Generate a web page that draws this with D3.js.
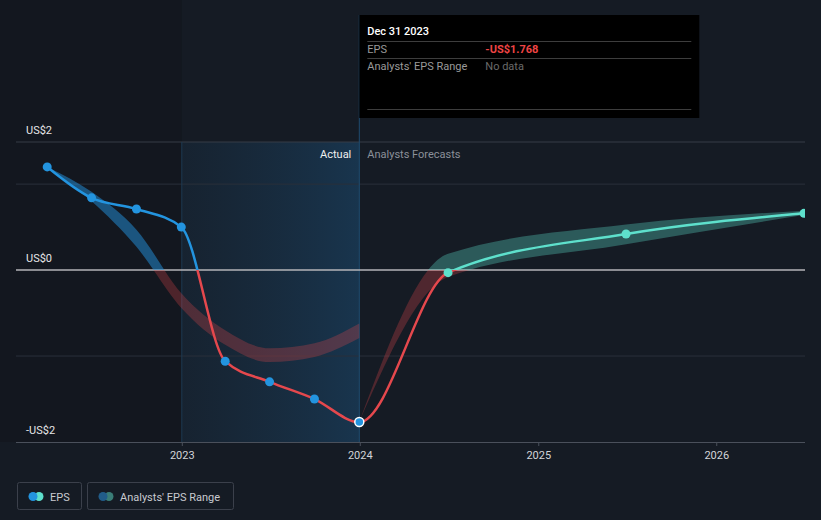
<!DOCTYPE html>
<html>
<head>
<meta charset="utf-8">
<script src="https://cdn.jsdelivr.net/npm/d3@7"></script>
<style>
  html, body { margin: 0; padding: 0; background: #151b24; }
  svg { display: block; font-family: Roboto, "Noto Sans", sans-serif; }
</style>
</head>
<body>
<svg id="chart" width="821" height="520"></svg>
<script>
// ---------- data ----------
const actualDates = ["2022-03-31", "2022-06-30", "2022-09-30", "2022-12-31", "2023-03-31", "2023-06-30", "2023-09-30", "2023-12-31"];
const actualEPS = [1.20, 0.84, 0.71, 0.50, -1.06, -1.30, -1.50, -1.768];

const forecastDates = ["2024-06-30", "2025-06-30", "2026-06-30"];
const forecastEPS = [-0.03, 0.42, 0.66];

const pastRangeDates = ["2022-03-31", "2022-06-30", "2022-09-30", "2022-12-31", "2023-03-31", "2023-06-30", "2023-09-30", "2023-12-31"];
const pastRangeLow = [1.20, 0.80, 0.27, -0.44, -0.87, -1.07, -1.01, -0.79];
const pastRangeHigh = [1.20, 0.91, 0.47, -0.27, -0.70, -0.91, -0.85, -0.62];

const forecastRangeDates = ["2023-12-31", "2024-06-30", "2025-06-30", "2026-06-30"];
const forecastRangeLow = [-1.768, -0.08, 0.30, 0.64];
const forecastRangeHigh = [-1.768, 0.19, 0.53, 0.69];

const xDomain = ["2022-01-26", "2026-07-02"];
const xTickDates = ["2023-01-01", "2024-01-01", "2025-01-01", "2026-01-01"];
const xTickLabels = ["2023", "2024", "2025", "2026"];
const yDomain = [-2, 1.49];
const yGridValues = [1, -1];
const yLabelValues = [1.49, 0, -2];
const yLabelTexts = ["US$2", "US$0", "-US$2"];
const dividerDate = "2023-12-31";
const actualStartDate = "2023-01-01";

const tooltipDate = "Dec 31 2023";
const tooltipRows = [["EPS", "-US$1.768"], ["Analysts' EPS Range", "No data"]];
const legendItems = ["EPS", "Analysts' EPS Range"];

// ---------- setup ----------
const parse = d3.timeParse("%Y-%m-%d");
const W = 821, H = 520;
const plot = { left: 16, right: 805, top: 142, bottom: 442 };
const C = {
  blue: "#2394df", red: "#e5484d", teal: "#5ee0cc",
  grid: "#2a303a", zero: "#b4b4b8", axis: "#4a505b"
};

const x = d3.scaleTime().domain(xDomain.map(parse)).range([plot.left, plot.right]);
const y = d3.scaleLinear().domain(yDomain).range([plot.bottom, plot.top]);

const svg = d3.select("#chart");
const defs = svg.append("defs");

const x0 = x(parse(dividerDate));
const xA = x(parse(actualStartDate));
const yZ = y(0);

// gradient for actual region
const g1 = defs.append("linearGradient").attr("id", "actGrad").attr("x1", "0").attr("x2", "1").attr("y1", "0").attr("y2", "0");
g1.append("stop").attr("offset", "0%").attr("stop-color", "#1b3a55").attr("stop-opacity", 0.25);
g1.append("stop").attr("offset", "100%").attr("stop-color", "#1b4a70").attr("stop-opacity", 0.55);

// clip paths
function clip(id, x1, y1, x2, y2) {
  defs.append("clipPath").attr("id", id).append("rect")
    .attr("x", x1).attr("y", y1).attr("width", x2 - x1).attr("height", y2 - y1);
}
clip("plotClip", plot.left, 0, plot.right, H);
clip("abovePast", plot.left, 0, x0, yZ);
clip("aboveFut", x0, 0, plot.right, yZ);
clip("below", plot.left, yZ, plot.right, H);

// darker past region
svg.append("rect").attr("x", 0).attr("y", 0).attr("width", xA).attr("height", plot.bottom)
  .attr("fill", "#12161d").attr("opacity", 0.6);

// actual shading
svg.append("rect").attr("x", xA).attr("y", plot.top).attr("width", x0 - xA).attr("height", plot.bottom - plot.top)
  .attr("fill", "url(#actGrad)");

// gridlines
svg.append("line").attr("x1", plot.left).attr("x2", plot.right).attr("y1", y(yDomain[1])).attr("y2", y(yDomain[1]))
  .attr("stroke", "#363c47").attr("stroke-width", 1);
svg.selectAll("line.grid").data(yGridValues).join("line").attr("class", "grid")
  .attr("x1", plot.left).attr("x2", plot.right).attr("y1", d => y(d)).attr("y2", d => y(d))
  .attr("stroke", C.grid).attr("stroke-width", 1);

// vertical lines
svg.append("line").attr("x1", xA).attr("x2", xA).attr("y1", plot.top).attr("y2", plot.bottom)
  .attr("stroke", "#1d3a52").attr("stroke-width", 1);
svg.append("line").attr("x1", x0).attr("x2", x0).attr("y1", 15).attr("y2", plot.bottom)
  .attr("stroke", "#1f4c70").attr("stroke-width", 1);

// x axis
const xAxis = svg.append("g").attr("transform", `translate(0,${plot.bottom})`)
  .call(d3.axisBottom(x).tickValues(xTickDates.map(parse)).tickFormat((d, i) => xTickLabels[i]).tickSize(4).tickPadding(5));
xAxis.select(".domain").attr("stroke", C.axis).attr("d", `M${plot.left},0.5H${plot.right}`);
xAxis.selectAll(".tick line").attr("stroke", C.axis);
xAxis.selectAll(".tick text").attr("fill", "#d2d4d8").attr("font-size", 11).attr("font-family", "Roboto, sans-serif");

// zero line
svg.append("line").attr("x1", plot.left).attr("x2", plot.right).attr("y1", yZ).attr("y2", yZ)
  .attr("stroke", C.zero).attr("stroke-width", 1.5);

// y labels
svg.selectAll("text.ylab").data(yLabelValues).join("text").attr("class", "ylab")
  .attr("x", 26).attr("y", d => y(d) - 8).attr("fill", "#e6e6e8").attr("font-size", 11)
  .text((d, i) => yLabelTexts[i]);

// Actual / Forecast labels
svg.append("text").attr("x", x0 - 8).attr("y", 158).attr("text-anchor", "end")
  .attr("fill", "#f0f0f0").attr("font-size", 11).text("Actual");
svg.append("text").attr("x", x0 + 8).attr("y", 158)
  .attr("fill", "#8b9099").attr("font-size", 11).text("Analysts Forecasts");

// ---------- bands ----------
const pastBand = pastRangeDates.map((d, i) => ({ d: parse(d), lo: pastRangeLow[i], hi: pastRangeHigh[i] }));
const futBand = forecastRangeDates.map((d, i) => ({ d: parse(d), lo: forecastRangeLow[i], hi: forecastRangeHigh[i] }));
const area = d3.area().x(d => x(d.d)).y0(d => y(d.lo)).y1(d => y(d.hi)).curve(d3.curveMonotoneX);

const plotG = svg.append("g").attr("clip-path", "url(#plotClip)");

function drawBand(data, aboveClip, aboveColor, aboveOp) {
  plotG.append("g").attr("clip-path", `url(#${aboveClip})`).append("path")
    .attr("d", area(data)).attr("fill", aboveColor).attr("fill-opacity", aboveOp);
  plotG.append("g").attr("clip-path", "url(#below)").append("path")
    .attr("d", area(data)).attr("fill", C.red).attr("fill-opacity", 0.28);
}
drawBand(pastBand, "abovePast", C.blue, 0.5);
drawBand(futBand, "aboveFut", C.teal, 0.32);

// ---------- EPS line ----------
const actual = actualDates.map((d, i) => ({ d: parse(d), v: actualEPS[i] }));
const fut = forecastDates.map((d, i) => ({ d: parse(d), v: forecastEPS[i] }));
const all = actual.concat(fut);
const line = d3.line().x(d => x(d.d)).y(d => y(d.v)).curve(d3.curveMonotoneX);

[["abovePast", C.blue], ["aboveFut", C.teal], ["below", C.red]].forEach(([cp, col]) => {
  plotG.append("g").attr("clip-path", `url(#${cp})`).append("path")
    .attr("d", line(all)).attr("fill", "none").attr("stroke", col).attr("stroke-width", 2.5);
});

// dots
plotG.selectAll("circle.act").data(actual.slice(0, -1)).join("circle").attr("class", "act")
  .attr("cx", d => x(d.d)).attr("cy", d => y(d.v)).attr("r", 4.5).attr("fill", C.blue);
plotG.selectAll("circle.fut").data(fut).join("circle").attr("class", "fut")
  .attr("cx", d => x(d.d)).attr("cy", d => y(d.v)).attr("r", 4.5).attr("fill", C.teal);
const last = actual[actual.length - 1];
plotG.append("circle").attr("cx", x(last.d)).attr("cy", y(last.v)).attr("r", 4.5)
  .attr("fill", C.blue).attr("stroke", "#ffffff").attr("stroke-width", 1.5);

// ---------- tooltip ----------
const tt = svg.append("g").attr("transform", `translate(${x0},15)`);
tt.append("rect").attr("width", 340).attr("height", 103).attr("fill", "#000000");
tt.append("text").attr("x", 8).attr("y", 20).attr("fill", "#ffffff").attr("font-size", 11).attr("font-weight", 500).text(tooltipDate);
[26, 43, 94].forEach(v => tt.append("line").attr("x1", 8).attr("x2", 332).attr("y1", v + 0.5).attr("y2", v + 0.5).attr("stroke", "#3d3d3d"));
tooltipRows.forEach((r, i) => {
  tt.append("text").attr("x", 8).attr("y", 38 + i * 17).attr("fill", "#9a9a9a").attr("font-size", 11).text(r[0]);
  tt.append("text").attr("x", 126).attr("y", 38 + i * 17)
    .attr("fill", i === 0 ? "#ef4444" : "#6a6a6a").attr("font-size", 11).attr("font-weight", i === 0 ? 700 : 400).text(r[1]);
});

// ---------- legend ----------
const legendDots = [[C.blue, C.teal], ["#215c89", "#3a7d77"]];
const legendX = [17, 87], legendW = [64, 146];
legendItems.forEach((name, i) => {
  const g = svg.append("g").attr("transform", `translate(${legendX[i]},482)`);
  g.append("rect").attr("x", 0.5).attr("y", 0.5).attr("width", legendW[i]).attr("height", 27).attr("rx", 2)
    .attr("fill", "none").attr("stroke", "#3b404b");
  g.append("circle").attr("cx", 22).attr("cy", 14.5).attr("r", 4.5).attr("fill", legendDots[i][1]);
  g.append("circle").attr("cx", 16).attr("cy", 14.5).attr("r", 4.5).attr("fill", legendDots[i][0]);
  g.append("text").attr("x", 33).attr("y", 18.5).attr("fill", "#c8cad0").attr("font-size", 11).text(name);
});
</script>
</body>
</html>
